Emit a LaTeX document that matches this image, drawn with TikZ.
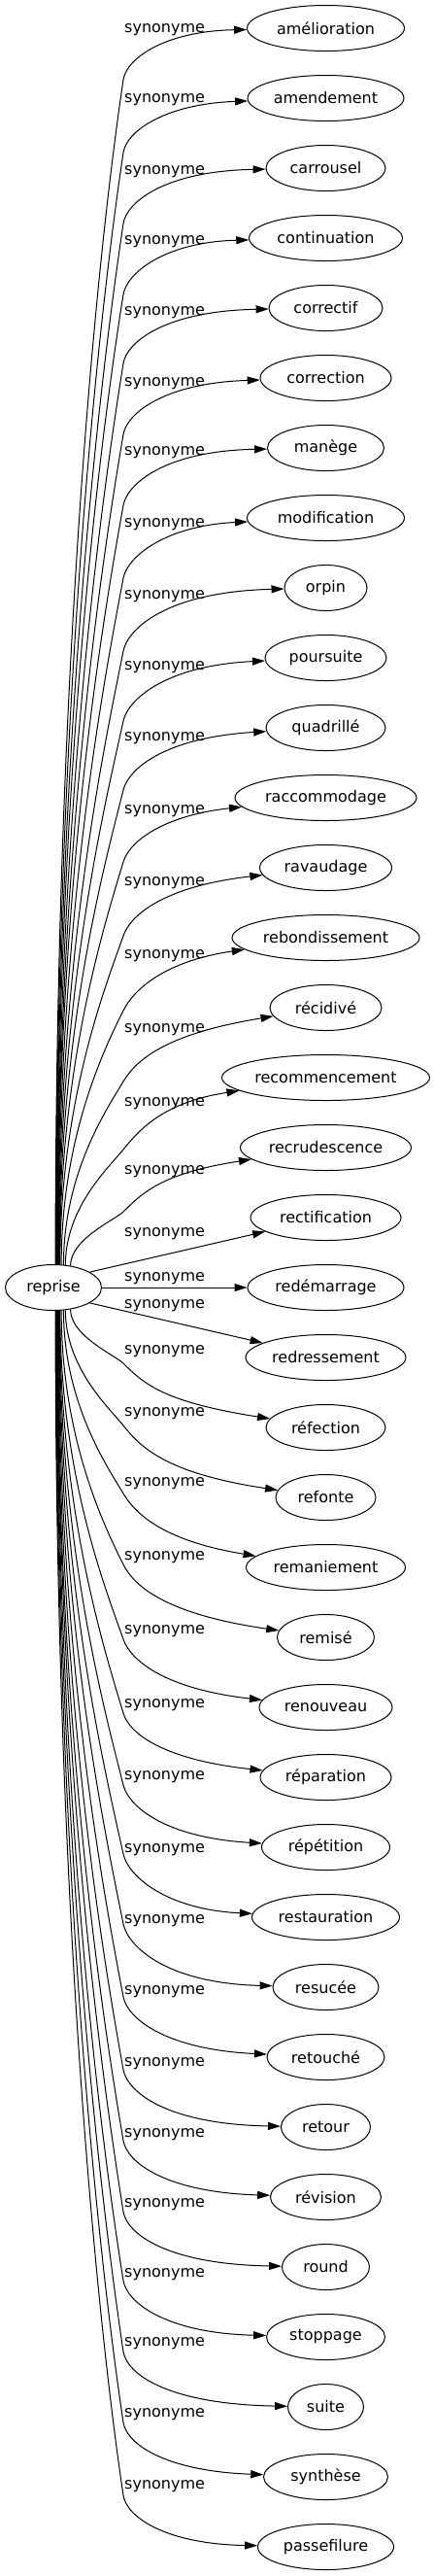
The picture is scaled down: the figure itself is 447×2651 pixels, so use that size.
\documentclass[tikz,border=0pt]{standalone}
\usepackage{fontspec}
\setmainfont{DejaVu Sans}
\usetikzlibrary{shapes.geometric,arrows.meta,calc}
\begin{document}
\begin{tikzpicture}[x=1pt,y=-1pt,
  every node/.style={font=\fontsize{16}{19}\selectfont},
  word/.style={draw, ellipse, line width=1pt, minimum height=47pt, inner sep=0pt},
  rel/.style={anchor=base west, inner sep=0pt},
  link/.style={line width=1pt, -{Triangle[length=13pt,width=8pt]}}]
\useasboundingbox (0,0) rectangle (447,2651);
\node[word, minimum width=99pt] (reprise) at (55,1325) {reprise};
% upper edges
\foreach \k/\txt/\rx/\b/\s/\ang/\c/\ly in {
 0/amélioration/81/53/0.15/85/3/29,
 1/amendement/80.5/56/0.15/84/6/101,
 2/carrousel/61.5/57/0.15/83/3/175,
 3/continuation/79/58/0.16/82/4/247,
 4/correctif/58.5/57/0.16/81/3/320,
 5/correction/67.5/58/0.17/80.5/5/393,
 6/manège/60/59/0.18/80/3/464,
 7/modification/81/62/0.19/79/8/538,
 8/orpin/42.5/65/0.2/78/4/612,
 9/poursuite/62.5/65/0.22/77/8/685,
 10/quadrillé/61.5/64/0.25/76/10/758,
 11/raccommodage/93.5/66/0.3/75/18/833,
 12/ravaudage/68/70/0.35/74/19/907,
 13/rebondissement/96.5/75/0.5/71/24/982,
 14/récidivé/57.5/76/0.6/66/27/1058,
 15/recommencement/107/74/0.8/62/25/1134,
 16/recrudescence/88/66/1.0/52/26/1204}{
  \pgfmathsetmacro\yy{29+72*\k}
  \pgfmathsetmacro\By{\yy+\b}
  \pgfmathsetmacro\L{1302-\By}
  \node[word, minimum width=2*\rx] (t\k) at (335.5,\yy) {\txt};
  \node[rel] (l\k) at (128,\ly+4.5) {synonyme};
  \draw[link] (reprise.\ang) .. controls ($(reprise.\ang)+(0,-0.5*\L)$) and ($(127,\By)+(-\s*0.15*\L,0.15*\L)$) .. (127,\By)
     .. controls ($(127,\By)+(22*\s,-22)$) and (170,\yy+\c) .. (t\k);
}
% lower edges
\foreach \k/\txt/\rx/\b/\s/\ang/\c/\ly in {
 20/réfection/61.5/66/1.0/308/26/1389,
 21/refonte/51.5/74/0.8/298/25/1453,
 22/remaniement/82/76/0.6/294/27/1525,
 23/remisé/50/75/0.5/289/24/1601,
 24/renouveau/68.5/70/0.35/286/19/1677,
 25/réparation/67.5/66/0.3/285/18/1753,
 26/répétition/66/64/0.25/284/10/1827,
 27/restauration/76/65/0.22/283/8/1902,
 28/resucée/54.5/65/0.2/282/4/1975,
 29/retouché/60.5/62/0.19/281/8/2048,
 30/retour/46/59/0.18/280/3/2122,
 31/révision/57/58/0.17/279.5/5/2195,
 32/round/45/57/0.16/279/3/2267,
 33/stoppage/61/58/0.16/278/4/2339,
 34/suite/39/57/0.15/277/3/2410,
 35/synthèse/64/56/0.15/276/6/2483,
 36/passefilure/70/53/0.15/275/3/2557}{
  \pgfmathsetmacro\yy{29+72*\k}
  \pgfmathsetmacro\By{\yy-\b}
  \pgfmathsetmacro\L{\By-1348}
  \node[word, minimum width=2*\rx] (t\k) at (335.5,\yy) {\txt};
  \node[rel] (l\k) at (128,\ly+4.5) {synonyme};
  \draw[link] (reprise.\ang) .. controls ($(reprise.\ang)+(0,0.5*\L)$) and ($(127,\By)+(-\s*0.15*\L,-0.15*\L)$) .. (127,\By)
     .. controls ($(127,\By)+(22*\s,22)$) and (170,\yy-\c) .. (t\k);
}
% middle edges
\node[word, minimum width=155pt] (t17) at (335.5,1253) {rectification};
\node[word, minimum width=161pt] (t18) at (335.5,1325) {redémarrage};
\node[word, minimum width=165pt] (t19) at (335.5,1397) {redressement};
\node[rel] (l17) at (128,1272.5) {synonyme};
\node[rel] (l18) at (128,1318.5) {synonyme};
\node[rel] (l19) at (128,1346.5) {synonyme};
\draw[link] (reprise.23) -- (t17);
\draw[link] (reprise) -- (t18);
\draw[link] (reprise.337) -- (t19);
\end{tikzpicture}
\end{document}
